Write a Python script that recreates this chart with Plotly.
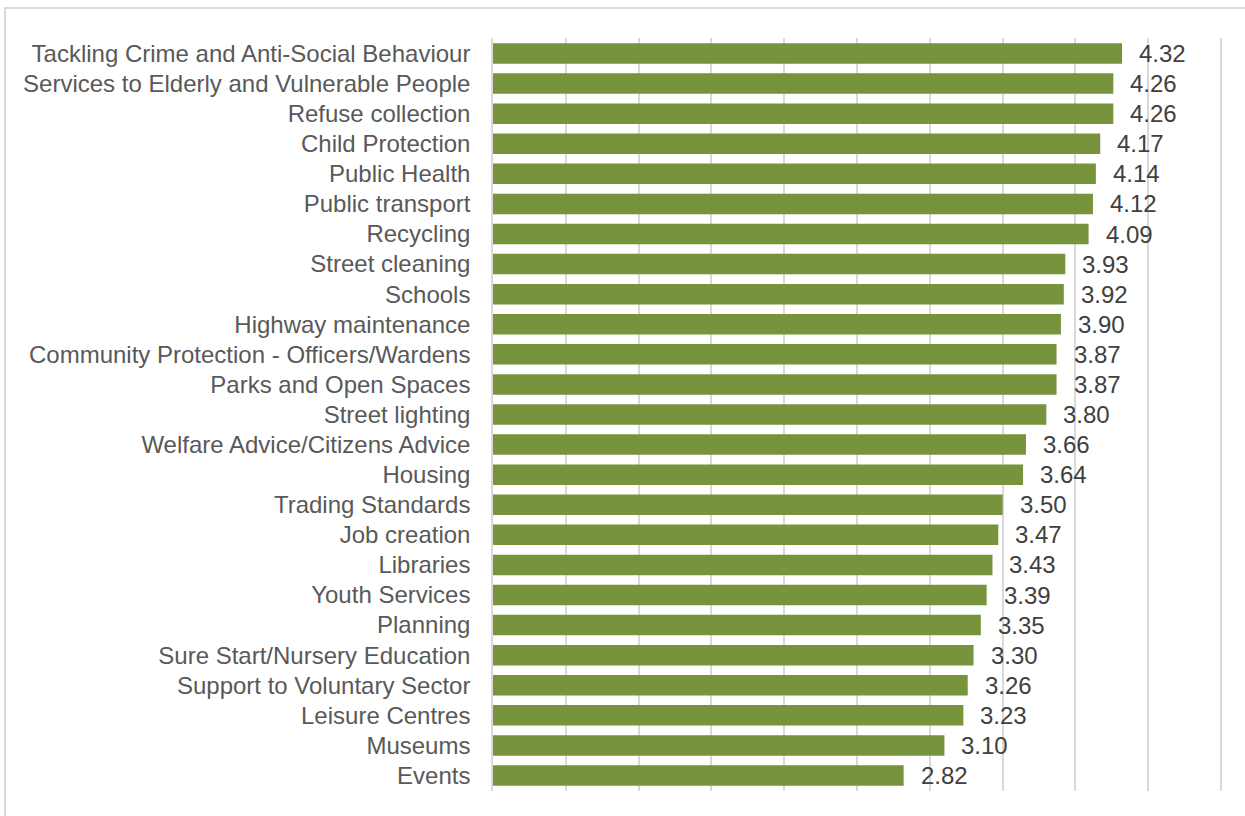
import plotly.graph_objects as go

categories = [
    "Tackling Crime and Anti-Social Behaviour",
    "Services to Elderly and Vulnerable People",
    "Refuse collection",
    "Child Protection",
    "Public Health",
    "Public transport",
    "Recycling",
    "Street cleaning",
    "Schools",
    "Highway maintenance",
    "Community Protection - Officers/Wardens",
    "Parks and Open Spaces",
    "Street lighting",
    "Welfare Advice/Citizens Advice",
    "Housing",
    "Trading Standards",
    "Job creation",
    "Libraries",
    "Youth Services",
    "Planning",
    "Sure Start/Nursery Education",
    "Support to Voluntary Sector",
    "Leisure Centres",
    "Museums",
    "Events",
]
values = [4.32, 4.26, 4.26, 4.17, 4.14, 4.12, 4.09, 3.93, 3.92, 3.90, 3.87, 3.87,
          3.80, 3.66, 3.64, 3.50, 3.47, 3.43, 3.39, 3.35, 3.30, 3.26, 3.23, 3.10, 2.82]
grid_ticks = [0, 0.5, 1, 1.5, 2, 2.5, 3, 3.5, 4, 4.5, 5]

FONT = "Liberation Sans, Arial, sans-serif"
FS = 24

fig = go.Figure()
fig.add_trace(go.Bar(
    x=values, y=categories, orientation="h",
    marker=dict(color="#77933C", line=dict(width=0)),
    hoverinfo="x+y",
))

for c, v in zip(categories, values):
    fig.add_annotation(
        x=v, y=c, text=f"{v:.2f}", showarrow=False,
        xanchor="left", yanchor="middle", xshift=15,
        font=dict(family=FONT, size=FS, color="#404040"),
    )

W, H = 1245, 816
L, R, T, B = 493, 21, 38, 25
pw = W - L - R
ph = H - T - B
fig.add_shape(
    type="rect", xref="paper", yref="paper",
    x0=(5 - L) / pw, x1=(W + 20 - L) / pw,
    y0=-(B + 20) / ph, y1=(H - B - 8) / ph,
    line=dict(color="#D9D9D9", width=2), fillcolor="rgba(0,0,0,0)",
    layer="below",
)

fig.update_layout(
    width=W, height=H, autosize=False,
    margin=dict(l=L, r=R, t=T, b=B),
    paper_bgcolor="white", plot_bgcolor="white",
    bargap=0.32, showlegend=False,
    font=dict(family=FONT, size=FS, color="#595959"),
    xaxis=dict(range=[0, 5.02], tickvals=grid_ticks,
               showgrid=True, gridcolor="#D9D9D9",
               gridwidth=1.5, showticklabels=False, zeroline=False,
               showline=False, fixedrange=True),
    yaxis=dict(autorange="reversed", showgrid=False, ticks="",
               ticklabelstandoff=16, showline=True, linecolor="#D9D9D9",
               linewidth=1.5, fixedrange=True,
               tickfont=dict(family=FONT, size=FS, color="#595959")),
)

fig.write_html(
    "out.html",
    config={"displayModeBar": False},
    post_script="document.body.style.margin='0';document.body.style.overflow='hidden';",
)
